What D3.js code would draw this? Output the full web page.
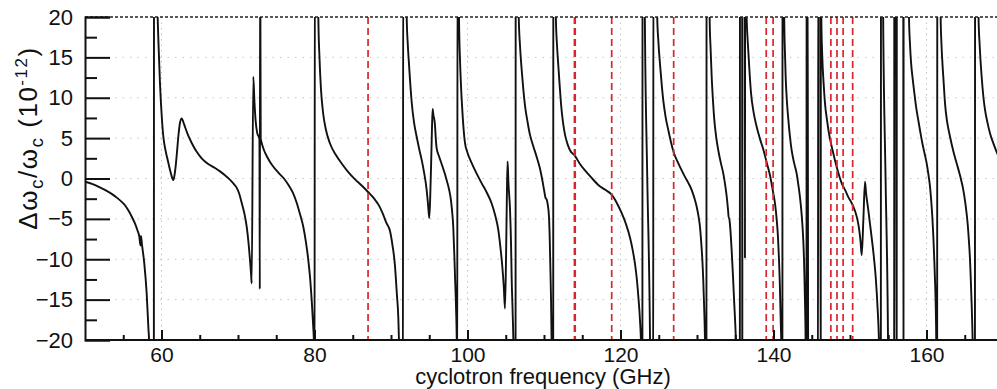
<!DOCTYPE html>
<html>
<head>
<meta charset="utf-8">
<script src="https://cdn.jsdelivr.net/npm/d3@7"></script>
<style>
  body { margin: 0; background: #fff; }
  text { font-family: "Liberation Sans", Arial, Helvetica, sans-serif; fill: #111; }
</style>
</head>
<body>
<script>
// frequency shift trace, [GHz, shift in 1e-12]; +-30 marks the trace leaving the frame at a pole
const trace = [
  [50.0,-0.4],[51.0,-0.7],[51.74,-1.0],[52.6,-1.4],[53.49,-1.9],[54.2,-2.4],[54.8,-2.9],[55.3,-3.4],
  [55.7,-4.0],[56.1,-4.7],[56.54,-5.6],[56.85,-6.4],[57.1,-7.2],[57.25,-8.3],[57.32,-7.1],[57.45,-8.2],
  [57.75,-10.5],[58.06,-14.2],[58.28,-18.4],[58.4,-20.5],[58.6,-30],[59.0,-30],[59.02,30],[59.3,30],
  [59.5,20],[59.67,15.1],[59.8,11.8],[59.93,9.3],[60.08,7.0],[60.24,5.2],[60.5,3.6],[60.81,2.3],
  [61.05,1.3],[61.24,0.6],[61.4,0.05],[61.55,-0.2],[61.7,0.4],[61.85,1.5],[62.0,3.0],[62.2,5.2],
  [62.42,6.9],[62.64,7.45],[62.85,7.0],[63.07,6.4],[63.5,5.3],[63.95,4.4],[64.6,3.3],[65.25,2.5],
  [66.1,1.8],[67.0,1.3],[67.7,0.85],[68.3,0.4],[68.9,-0.1],[69.39,-0.6],[69.8,-1.1],[70.13,-1.8],
  [70.48,-3.0],[70.85,-4.4],[71.14,-6.0],[71.4,-8.2],[71.57,-10.1],[71.72,-12.0],[71.79,-13.0],
  [72.0,12.6],[72.15,9.5],[72.3,7.2],[72.5,5.7],[72.8,4.9],[72.85,-13.7],[72.9,30],[72.97,5.0],
  [73.1,4.4],[73.4,3.5],[73.8,2.7],[74.5,1.6],[75.3,0.7],[76.0,0.0],[76.6,-0.8],[77.2,-1.8],
  [77.67,-3.0],[78.1,-4.4],[78.54,-6.0],[78.9,-8.0],[79.19,-10.1],[79.45,-12.6],[79.63,-15.0],
  [79.8,-17.8],[79.93,-20.5],[80.0,-30],[80.05,30],[80.4,30],
  [80.5,20],[80.65,15],[80.85,11],[81.1,8.3],[81.5,6.0],[82.0,4.4],[82.8,2.9],[83.6,1.8],[84.5,0.7],
  [85.3,-0.1],[86.2,-0.9],[87.03,-1.7],[87.8,-2.5],[88.4,-3.3],[88.9,-4.3],[89.4,-5.5],[89.87,-6.5],
  [90.2,-8.3],[90.5,-10.6],[90.78,-14.5],[90.95,-17.1],[91.05,-20.5],[91.2,-30],[91.55,-30],[91.6,30],
  [91.95,30],[92.05,20],[92.2,16.5],[92.35,14.2],[92.5,12.0],[92.7,9.5],[93.0,7.0],[93.35,5.2],
  [93.7,3.6],[94.01,2.3],[94.35,0.6],[94.66,-1.4],[94.85,-3.3],[95.0,-4.9],[95.12,-2.5],[95.25,2.0],
  [95.35,6.0],[95.44,8.6],[95.55,7.8],[95.68,7.2],[95.75,6.6],[95.85,5.0],[95.96,3.8],[96.3,2.7],
  [96.62,1.8],[97.0,0.7],[97.27,-0.2],[97.6,-1.4],[97.84,-2.7],[98.0,-4.2],[98.14,-6.0],[98.28,-9.5],
  [98.37,-12.2],[98.5,-16],[98.6,-20.5],[98.65,-30],[98.7,30],[98.8,30],
  [98.89,20],[99.02,14.7],[99.15,11.5],[99.32,8.5],[99.5,6.0],[99.67,4.4],[100.0,3.2],[100.55,1.9],
  [101.2,0.6],[101.86,-0.6],[102.5,-1.7],[103.16,-3.1],[103.6,-4.5],[104.03,-6.4],[104.3,-8.5],
  [104.55,-10.9],[104.75,-13.5],[104.9,-16.1],[105.05,-9.0],[105.15,-2.0],[105.24,2.1],[105.35,-0.5],
  [105.56,-3.9],[105.7,-8.5],[105.77,-12.2],[105.9,-16.5],[106.0,-20.5],[106.1,-30],[106.28,-30],
  [106.3,30],[106.6,30],
  [106.7,20],[106.86,16.5],[107.08,13.5],[107.3,11],[107.52,9.0],[107.85,7.0],[108.17,5.4],[108.6,4.0],
  [109.0,2.8],[109.48,1.2],[109.8,-0.3],[110.04,-1.6],[110.2,-2.4],[110.35,-2.6],[110.5,-3.3],
  [110.65,-4.7],[110.75,-7.5],[110.83,-11],[110.92,-15],[111.0,-20.5],[111.1,-30],[111.2,-30],
  [111.22,30],[111.45,30],
  [111.55,20],[111.7,16.5],[111.87,14.0],[112.05,11.5],[112.22,9.3],[112.45,7.2],[112.75,5.4],
  [113.1,4.2],[113.4,3.5],[114.05,2.8],[114.7,1.8],[115.36,1.0],[116.2,0.1],[117.1,-0.8],[118.0,-1.4],
  [118.85,-2.0],[119.5,-3.0],[120.16,-4.3],[120.7,-5.6],[121.24,-7.3],[121.6,-8.9],[121.9,-10.6],
  [122.15,-12.6],[122.33,-14.6],[122.55,-17.6],[122.68,-20.5],[122.8,-30],[122.86,-30],[122.88,30],
  [123.1,30],[123.2,18],[123.5,0],[123.86,-20],[123.95,-30],[124.27,-30],[124.3,30],[124.7,30],
  [124.8,20],[124.95,17],[125.16,14.2],[125.4,11.5],[125.6,9.6],[125.9,7.6],[126.25,6.0],[126.6,4.5],
  [127.0,3.1],[127.5,2.0],[128.0,1.0],[128.43,0.2],[128.9,-0.6],[129.3,-1.4],[129.65,-2.4],
  [129.96,-3.5],[130.2,-4.7],[130.39,-6.0],[130.55,-7.9],[130.7,-10.1],[130.82,-12.6],[130.92,-15.5],
  [131.05,-20.5],[131.15,-30],[131.23,-30],[131.25,30],[131.55,30],
  [131.65,20],[131.78,16],[131.92,12.6],[132.08,9.8],[132.26,7.3],[132.5,5.2],[132.78,3.5],[133.1,2.0],
  [133.44,0.6],[133.7,-0.9],[133.88,-2.2],[134.05,-3.8],[134.15,-4.9],[134.2,-4.9],[134.3,-5.6],
  [134.53,-8.9],[134.7,-12.0],[134.87,-15.5],[135.0,-18.0],[135.1,-20.5],[135.3,-30],[135.6,-30],
  [135.62,30],[135.9,30],[135.92,-30],[135.94,30],[136.25,30],[136.27,-9.9],[136.29,30],[136.42,30],
  [136.49,20],[136.6,17.5],[136.7,15.9],[136.88,13.0],[137.06,10.6],[137.4,8.2],[137.8,6.4],[138.2,5.0],
  [138.67,3.6],[139.05,2.2],[139.54,0.4],[139.95,-1.7],[140.2,-3.1],[140.42,-5.1],[140.6,-7.5],
  [140.72,-10.1],[140.82,-12.8],[140.89,-15.5],[140.97,-18.5],[141.02,-20.5],[141.1,-30],[141.16,-30],
  [141.18,30],[141.32,30],
  [141.4,20],[141.5,15.5],[141.59,12.6],[141.75,9.6],[141.94,7.3],[142.15,5.2],[142.37,3.5],[142.7,1.9],
  [143.03,0.6],[143.25,-0.8],[143.46,-2.3],[143.62,-3.8],[143.77,-5.6],[143.9,-7.8],[143.99,-10.1],
  [144.06,-12.8],[144.12,-15.5],[144.17,-18],[144.2,-20.5],[144.25,-30],[144.31,-30],[144.33,30],
  [144.45,30],[144.55,-30],[145.8,-30],[145.86,30],[146.1,30],[146.17,-30],[146.19,30],
  [146.25,20],[146.38,15],[146.55,11.8],[146.73,9.3],[147.0,7.2],[147.25,5.6],[147.5,4.4],[147.82,3.1],
  [148.1,2.0],[148.47,0.7],[148.92,-0.6],[149.35,-1.4],[149.78,-2.3],[150.2,-3.0],[150.65,-4.0],
  [150.95,-5.0],[151.18,-6.2],[151.38,-7.8],[151.53,-9.5],[151.75,-5.0],[151.96,-0.4],[152.1,-1.8],
  [152.39,-3.9],[152.65,-5.9],[152.92,-8.0],[153.15,-10.0],[153.36,-12.2],[153.5,-14.2],[153.62,-16.3],
  [153.72,-18.3],[153.79,-20.5],[153.9,-30],[154.03,-30],[154.05,30],[154.25,30],[154.35,18],
  [154.65,0],[154.97,-20],[155.05,-30],[155.77,-30],[155.79,30],[156.0,30],[156.1,-30],[156.12,30],
  [156.96,30],[156.99,-30],[157.01,30],[157.6,30],
  [157.71,20],[157.85,16.5],[157.97,14.5],[158.2,12.3],[158.41,10.6],[158.65,8.8],[158.93,7.2],
  [159.2,5.7],[159.45,4.4],[159.75,3.1],[160.02,1.9],[160.25,0.5],[160.46,-1.0],[160.62,-2.8],
  [160.76,-4.7],[160.9,-7.3],[161.02,-10.1],[161.12,-12.8],[161.2,-15.5],[161.25,-18],[161.28,-20.5],
  [161.35,-30],[161.39,-30],[161.41,30],[161.75,30],
  [161.85,20],[161.95,16.8],[162.07,14.5],[162.25,11.8],[162.42,9.3],[162.7,7.0],[163.07,5.2],
  [163.5,3.4],[163.94,1.9],[164.4,0.3],[164.81,-1.4],[165.1,-3.2],[165.38,-5.6],[165.55,-7.8],
  [165.69,-10.1],[165.8,-12.8],[165.9,-15.5],[165.98,-18],[166.04,-20.5],[166.15,-30],[166.33,-30],
  [166.35,30],[166.72,30],
  [166.8,20],[166.95,16.5],[167.21,12.6],[167.45,10.0],[167.65,8.5],[168.0,6.8],[168.3,5.6],
  [168.8,4.2],[169.3,3.0],[170.0,2.0]
];

// red dashed marker frequencies (GHz)
const markerGHz = [87.0, 113.98, 114.08, 118.85, 126.95, 139.05, 139.95, 147.5, 148.3, 149.1, 150.35];

const xMajor = [60, 80, 100, 120, 140, 160];
const xMinor = d3.range(55, 170, 5);
const yMajor = [-20, -15, -10, -5, 0, 5, 10, 15, 20];
const yMinor = [-17.5, -12.5, -7.5, -2.5, 2.5, 7.5, 12.5, 17.5];
const yGrid = [-15, -10, -5, 0, 5, 10, 15];

const W = 997, H = 389;
const mLeft = 85, mTop = 17, mBottom = 340;

const svg = d3.select("body").append("svg")
  .attr("width", W)
  .attr("height", H);

const x = d3.scaleLinear().domain([50, 170]).range([mLeft, mLeft + 120 * 7.65]);
const y = d3.scaleLinear().domain([-20, 20]).range([mBottom, mTop]);

svg.append("clipPath").attr("id", "plot")
  .append("rect")
  .attr("x", mLeft).attr("y", mTop)
  .attr("width", W - mLeft).attr("height", mBottom - mTop);

// dotted grid
svg.append("g").selectAll("line")
  .data(yGrid)
  .enter().append("line")
  .attr("x1", mLeft).attr("x2", W)
  .attr("y1", d => y(d)).attr("y2", d => y(d))
  .attr("stroke", "#c4c4c4")
  .attr("stroke-width", 1)
  .attr("stroke-dasharray", "1.5,6");

svg.append("g").selectAll("line")
  .data(xMajor)
  .enter().append("line")
  .attr("x1", d => x(d)).attr("x2", d => x(d))
  .attr("y1", mTop).attr("y2", mBottom)
  .attr("stroke", "#c4c4c4")
  .attr("stroke-width", 1)
  .attr("stroke-dasharray", "1.5,4");

const plot = svg.append("g").attr("clip-path", "url(#plot)");

const line = d3.line()
  .x(d => x(d[0]))
  .y(d => y(d[1]))
  .curve(d3.curveMonotoneX);

plot.append("path")
  .datum(trace)
  .attr("d", line)
  .attr("fill", "none")
  .attr("stroke", "#111")
  .attr("stroke-width", 1.9)
  .attr("stroke-linejoin", "round");

plot.selectAll(".marker")
  .data(markerGHz)
  .enter().append("line")
  .attr("class", "marker")
  .attr("x1", d => x(d)).attr("x2", d => x(d))
  .attr("y1", mTop).attr("y2", mBottom)
  .attr("stroke", "#d8262e")
  .attr("stroke-width", 1.7)
  .attr("stroke-dasharray", "7,4");

// dashed line along the top (y = 20)
svg.append("line")
  .attr("x1", mLeft).attr("x2", W)
  .attr("y1", y(20)).attr("y2", y(20))
  .attr("stroke", "#222")
  .attr("stroke-width", 1.4)
  .attr("stroke-dasharray", "3,2");

// axes, ticks pointing inward
const fmt = d => d < 0 ? "\u2212" + Math.abs(d) : String(d);

const yAxis = svg.append("g")
  .attr("transform", "translate(" + mLeft + ",0)")
  .call(d3.axisLeft(y).tickValues(yMajor).tickSize(-25).tickPadding(12).tickFormat(fmt));
svg.append("g")
  .attr("transform", "translate(" + mLeft + ",0)")
  .call(d3.axisLeft(y).tickValues(yMinor).tickSize(-12).tickFormat(""))
  .select(".domain").remove();

const xAxis = svg.append("g")
  .attr("transform", "translate(0," + mBottom + ")")
  .call(d3.axisBottom(x).tickValues(xMajor).tickSize(-10).tickPadding(7));
svg.append("g")
  .attr("transform", "translate(0," + mBottom + ")")
  .call(d3.axisBottom(x).tickValues(xMinor).tickSize(-5).tickFormat(""))
  .select(".domain").remove();

svg.selectAll(".tick line").attr("stroke", "#111").attr("stroke-width", 2);
svg.selectAll(".domain").attr("stroke", "#111").attr("stroke-width", 2);
yAxis.selectAll("text").attr("font-size", 22).attr("fill", "#111");
xAxis.selectAll("text").attr("font-size", 21).attr("fill", "#111");
xAxis.select(".domain").attr("d", "M" + mLeft + ",0H" + W);

// axis titles
svg.append("text")
  .attr("x", 543).attr("y", 384)
  .attr("text-anchor", "middle")
  .attr("font-size", 22)
  .text("cyclotron frequency (GHz)");

const ylab = svg.append("text")
  .attr("transform", "translate(37,138) rotate(-90)")
  .attr("text-anchor", "middle")
  .attr("font-size", 26)
  .attr("letter-spacing", 1.5);
ylab.append("tspan").text("\u0394\u03c9");
ylab.append("tspan").attr("dy", 6).attr("font-size", 19).text("c");
ylab.append("tspan").attr("dy", -6).text("/\u03c9");
ylab.append("tspan").attr("dy", 6).attr("font-size", 19).text("c");
ylab.append("tspan").attr("dy", -6).text(" (10");
ylab.append("tspan").attr("dy", -10).attr("font-size", 17).text("-12");
ylab.append("tspan").attr("dy", 10).text(")");
</script>
</body>
</html>
